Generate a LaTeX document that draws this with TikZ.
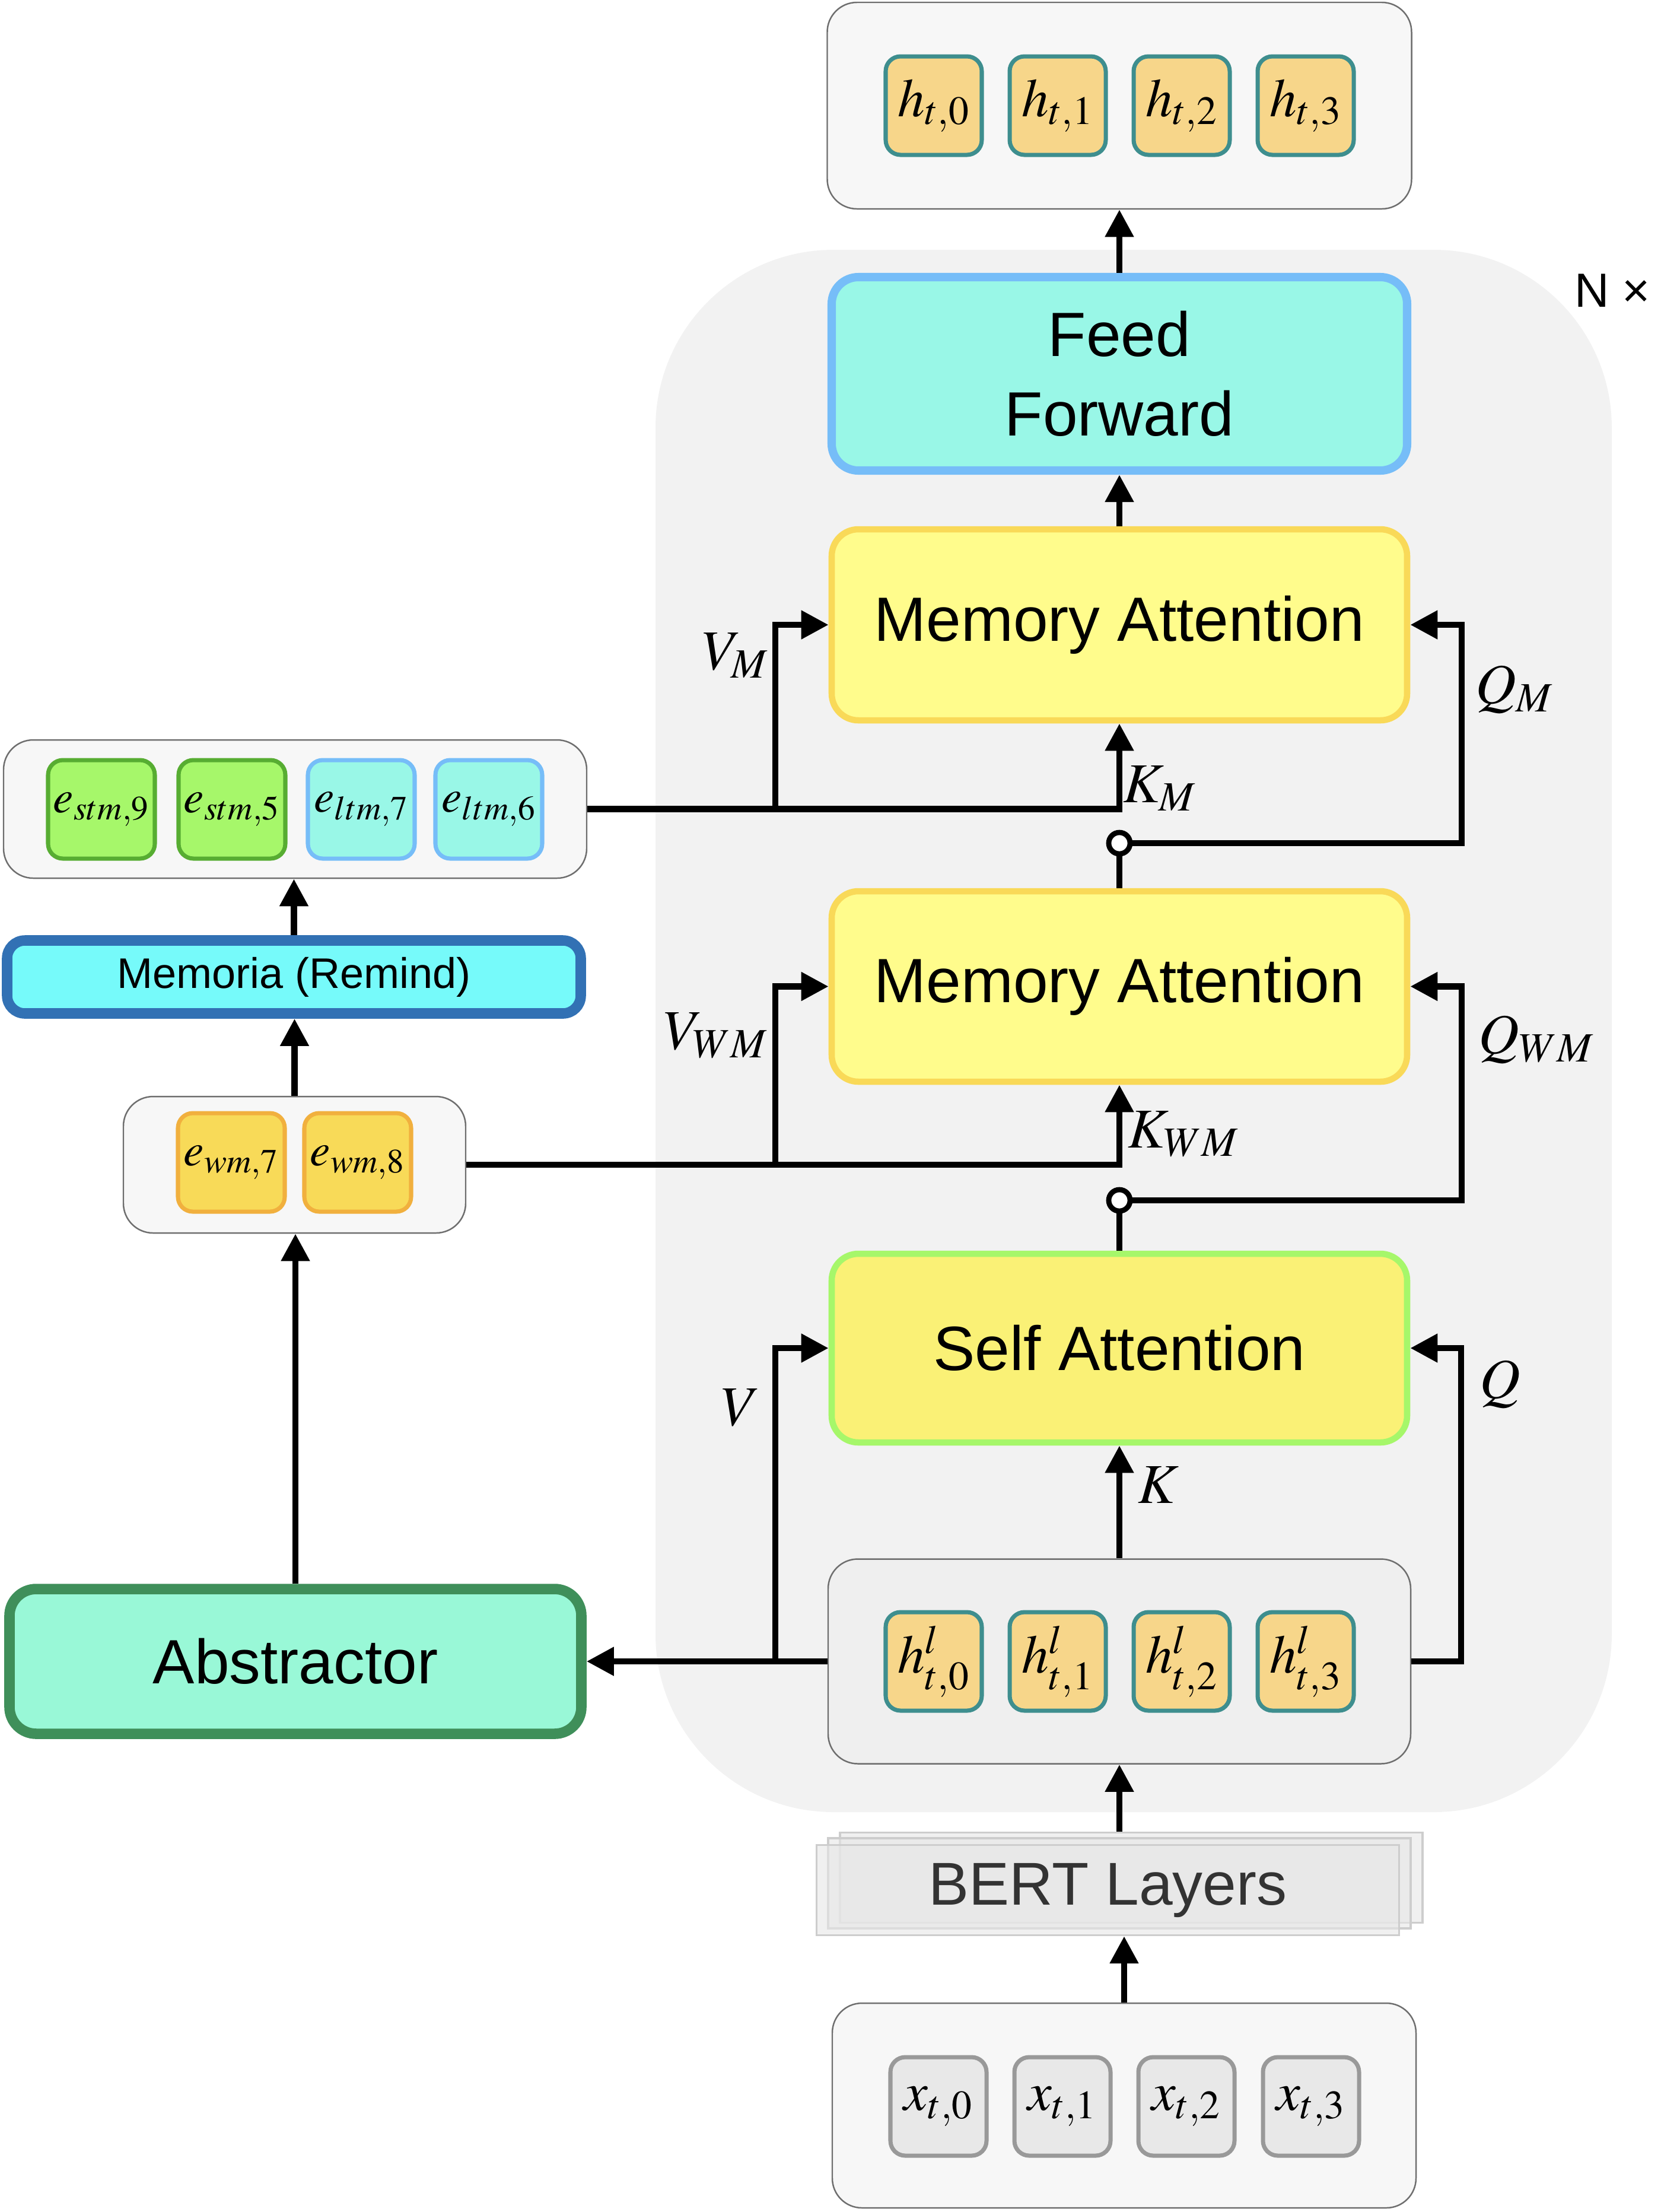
\documentclass[tikz,border=0pt]{standalone}
\usepackage{mathptmx}
\usepackage[no-math]{fontspec}
\setmainfont{Liberation Sans}
\usetikzlibrary{arrows.meta,positioning,calc}

\definecolor{panel}{RGB}{242,242,242}
\definecolor{tray}{RGB}{247,247,247}
\definecolor{hltray}{RGB}{239,239,239}
\definecolor{trayline}{RGB}{110,110,110}
\definecolor{hfill}{RGB}{247,214,138}
\definecolor{hline}{RGB}{62,142,142}
\definecolor{xfill}{RGB}{232,232,232}
\definecolor{xline}{RGB}{153,153,153}
\definecolor{ffill}{RGB}{153,247,231}
\definecolor{fline}{RGB}{118,189,248}
\definecolor{mafill}{RGB}{255,252,140}
\definecolor{maline}{RGB}{249,217,88}
\definecolor{safill}{RGB}{250,241,118}
\definecolor{saline}{RGB}{166,247,106}
\definecolor{remfill}{RGB}{118,250,250}
\definecolor{remline}{RGB}{50,113,180}
\definecolor{absfill}{RGB}{153,248,215}
\definecolor{absline}{RGB}{63,143,90}
\definecolor{stmfill}{RGB}{166,247,106}
\definecolor{stmline}{RGB}{87,173,50}
\definecolor{wmfill}{RGB}{248,218,88}
\definecolor{wmline}{RGB}{241,176,62}
\definecolor{bertfill}{RGB}{230,230,230}
\definecolor{bertline}{RGB}{205,205,205}

\begin{document}
\begin{tikzpicture}[
  tray/.style={draw=trayline, fill=tray, line width=0.7pt, rounded corners=0.5cm, inner sep=0pt},
  tok/.style={rounded corners=0.25cm, line width=2pt, minimum width=1.62cm, minimum height=1.66cm, inner sep=0pt, font=\fontsize{26}{30}\selectfont},
  htok/.style={tok, draw=hline, fill=hfill},
  xtok/.style={tok, draw=xline, fill=xfill},
  etok/.style={tok, minimum width=1.8cm, font=\fontsize{22}{26}\selectfont},
  block/.style={rounded corners=0.45cm, minimum width=9.7cm, align=center, inner sep=0pt, font=\fontsize{30}{38}\selectfont},
  sheet/.style={draw=bertline, fill=bertfill, fill opacity=0.6, text opacity=1, line width=0.9pt, minimum width=9.82cm, minimum height=1.52cm, inner sep=0pt},
  junc/.style={circle, draw, fill=white, line width=2.5pt, minimum size=0.36cm, inner sep=0pt},
  arr/.style={line width=3.1pt, -{Triangle[length=0.46cm,width=0.46cm]}},
  wire/.style={line width=3.1pt},
  lbl/.style={font=\fontsize{27}{30}\selectfont},
]
\useasboundingbox (0,0) rectangle (28,-37.28);

% repeated block
\fill[panel, rounded corners=3cm] (11.05,-4.21) rectangle (27.17,-30.54);
\node[font=\fontsize{23}{26}\selectfont] (nx) at (27.18,-4.9) {N ×};

% output tokens
\node[tray, minimum width=9.85cm, minimum height=3.48cm] (out) at (18.87,-1.78) {};
\node[htok] (ht0) at (15.74,-1.78) {$h_{t,0}$};
\node[htok] (ht1) at (17.83,-1.78) {$h_{t,1}$};
\node[htok] (ht2) at (19.92,-1.78) {$h_{t,2}$};
\node[htok] (ht3) at (22.01,-1.78) {$h_{t,3}$};

% main column
\node[block, draw=fline, fill=ffill, line width=4pt, minimum height=3.26cm] (ff) at (18.87,-6.30) {Feed\\Forward};
\node[block, draw=maline, fill=mafill, line width=3pt, minimum height=3.22cm] (ma1) at (18.87,-10.53) {Memory Attention};
\node[block, draw=maline, fill=mafill, line width=3pt, minimum height=3.21cm] (ma2) at (18.87,-16.625) {Memory Attention};
\node[block, draw=saline, fill=safill, line width=3pt, minimum height=3.18cm] (sa) at (18.87,-22.72) {Self Attention};
\node[junc] (c1) at (18.87,-14.21) {};
\node[junc] (c2) at (18.87,-20.23) {};

\node[tray, fill=hltray, minimum width=9.82cm, minimum height=3.45cm] (hl) at (18.87,-28.0) {};
\node[htok] (hl0) at (15.74,-28.0) {$h^{l}_{t,0}$};
\node[htok] (hl1) at (17.83,-28.0) {$h^{l}_{t,1}$};
\node[htok] (hl2) at (19.92,-28.0) {$h^{l}_{t,2}$};
\node[htok] (hl3) at (22.01,-28.0) {$h^{l}_{t,3}$};

% encoder below
\node[sheet] (bert3) at (19.07,-31.645) {};
\node[sheet] (bert2) at (18.87,-31.74) {};
\node[sheet, text=black!80, font=\fontsize{29}{34}\selectfont] (bert) at (18.675,-31.855) {BERT Layers};

\node[tray, minimum width=9.84cm, minimum height=3.45cm] (xin) at (18.95,-35.485) {};
\node[xtok] (x0) at (15.82,-35.50) {$x_{t,0}$};
\node[xtok] (x1) at (17.91,-35.50) {$x_{t,1}$};
\node[xtok] (x2) at (20.00,-35.50) {$x_{t,2}$};
\node[xtok] (x3) at (22.10,-35.50) {$x_{t,3}$};

% memory side
\node[tray, minimum width=9.83cm, minimum height=2.33cm] (mem) at (4.975,-13.635) {};
\node[etok, draw=stmline, fill=stmfill] (es9) at (1.71,-13.64) {$e_{stm,9}$};
\node[etok, draw=stmline, fill=stmfill] (es5) at (3.91,-13.64) {$e_{stm,5}$};
\node[etok, draw=fline, fill=ffill] (el7) at (6.09,-13.64) {$e_{ltm,7}$};
\node[etok, draw=fline, fill=ffill] (el6) at (8.24,-13.64) {$e_{ltm,6}$};

\node[block, draw=remline, fill=remfill, line width=5pt, rounded corners=0.3cm, minimum width=9.67cm, minimum height=1.23cm, font=\fontsize{20.5}{24}\selectfont] (rem) at (4.955,-16.465) {Memoria (Remind)};

\node[tray, minimum width=5.77cm, minimum height=2.30cm] (wm) at (4.965,-19.63) {};
\node[etok, draw=wmline, fill=wmfill] (ew7) at (3.90,-19.59) {$e_{wm,7}$};
\node[etok, draw=wmline, fill=wmfill] (ew8) at (6.03,-19.59) {$e_{wm,8}$};

\node[block, draw=absline, fill=absfill, line width=5pt, minimum width=9.64cm, minimum height=2.44cm] (abs) at (4.98,-28.0) {Abstractor};

% connectors
\coordinate (qm) at (24.64,-10.53);
\coordinate (qwm) at (24.64,-16.625);
\coordinate (qsa) at (24.63,-22.72);
\coordinate (vm) at (13.07,-13.635);
\coordinate (vwm) at (13.07,-19.63);
\coordinate (vsa) at (13.07,-28.0);

\draw[arr] (ff.north) -- (out.south);
\draw[arr] (ma1.north) -- (ff.south);
\draw[wire] (ma2.north) -- (c1);
\draw[arr] (c1) -| (qm) -- (ma1.east);
\draw[arr] (mem.east) -| (ma1.south);
\draw[arr] (vm) |- (ma1.west);
\draw[wire] (sa.north) -- (c2);
\draw[arr] (c2) -| (qwm) -- (ma2.east);
\draw[arr] (wm.east) -| (ma2.south);
\draw[arr] (vwm) |- (ma2.west);
\draw[arr] (hl.north) -- (sa.south);
\draw[arr] (hl.east) -| (qsa) -- (sa.east);
\draw[arr] (hl.west) -- (abs.east);
\draw[arr] (vsa) |- (sa.west);
\draw[arr] (bert3.north -| hl.south) -- (hl.south);
\draw[arr] (xin.north) -- (bert.south -| xin.north);
\draw[arr] (abs.north) -- (wm.south -| abs.north);
\draw[arr] (wm.north) -- (rem.south -| wm.north);
\draw[arr] (rem.north) -- (mem.south -| rem.north);

% labels
\node[lbl] (lvm) at (12.40,-11.05) {$V_M$};
\node[lbl] (lqm) at (25.53,-11.62) {$Q_M$};
\node[lbl] (lkm) at (19.55,-13.29) {$K_M$};
\node[lbl] (lvwm) at (12.07,-17.45) {$V_{WM}$};
\node[lbl] (lqwm) at (25.90,-17.52) {$Q_{WM}$};
\node[lbl] (lkwm) at (19.95,-19.11) {$K_{WM}$};
\node[lbl] (lv) at (12.49,-23.72) {$V$};
\node[lbl] (lq) at (25.29,-23.33) {$Q$};
\node[lbl] (lk) at (19.53,-25.03) {$K$};
\end{tikzpicture}
\end{document}
